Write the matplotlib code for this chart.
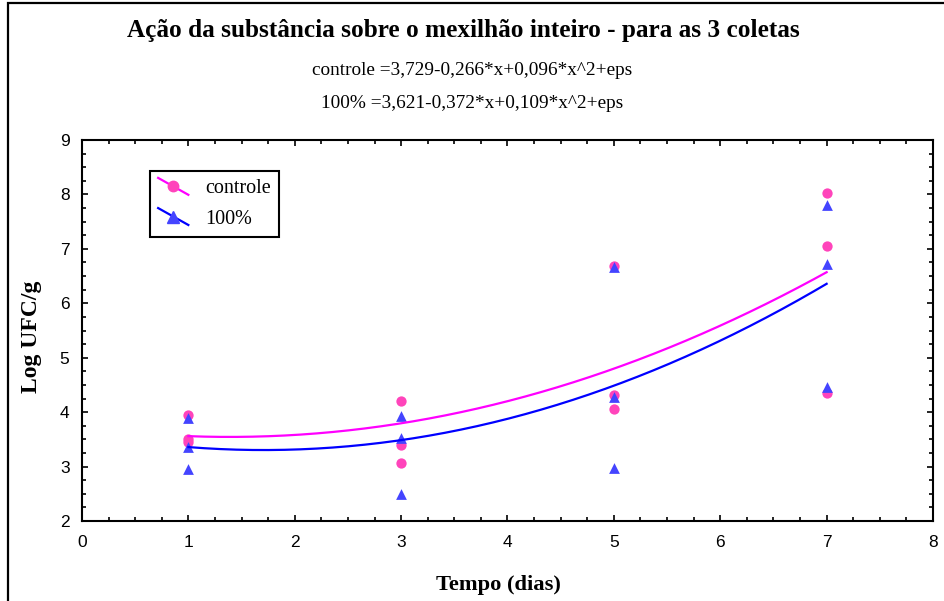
import numpy as np
import matplotlib
matplotlib.use('Agg')
import matplotlib.pyplot as plt
from matplotlib.legend_handler import HandlerLine2D
from matplotlib.lines import Line2D
from matplotlib.patches import Rectangle
from matplotlib.ticker import MultipleLocator

# sampling days, 3 collections per day
dias = [1, 1, 1, 3, 3, 3, 5, 5, 5, 7, 7, 7]
controle = [3.95, 3.50, 3.45, 4.21, 3.40, 3.07, 6.68, 4.32, 4.06, 8.02, 7.06, 4.36]
trat_100 = [3.90, 3.36, 2.96, 3.93, 3.53, 2.50, 6.66, 4.27, 2.98, 7.80, 6.73, 4.47]

# fitted quadratic coefficients (a + b*x + c*x^2) shown in the header
coef_controle = [3.729, -0.266, 0.096]
coef_100 = [3.621, -0.372, 0.109]

serif = 'Liberation Serif'
sans = 'Liberation Sans'


class DiagonalHandler(HandlerLine2D):
    # legend sample drawn as a slanted line with the marker in the middle
    def create_artists(self, legend, orig_handle, xdescent, ydescent,
                       width, height, fontsize, trans):
        x0, x1 = -xdescent, -xdescent + width
        y0, y1 = -ydescent + height * 1.1, -ydescent - height * 0.1
        ln = Line2D([x0, x1], [y0, y1], color=orig_handle.get_color(),
                    lw=orig_handle.get_linewidth())
        mk = Line2D([(x0 + x1) / 2], [(y0 + y1) / 2], linestyle='none',
                    marker=orig_handle.get_marker(),
                    markersize=orig_handle.get_markersize(),
                    color=orig_handle.get_markerfacecolor())
        ln.set_transform(trans)
        mk.set_transform(trans)
        return [ln, mk]


def eq_text(nome, c):
    s = f'{nome} ={c[0]:.3f}{c[1]:+.3f}*x{c[2]:+.3f}*x^2+eps'
    return s.replace('.', ',')


fig = plt.figure(figsize=(9.45, 6.01), dpi=100)
ax = fig.add_axes([82 / 945, 1 - 521 / 601, 851 / 945, 381 / 601])

ax.scatter(dias, controle, s=55, marker='o', color='#ff44bb', zorder=2, linewidths=0)
ax.scatter(dias, trat_100, s=60, marker='^', color='#4444ff', zorder=3, linewidths=0)

xs = np.linspace(min(dias), max(dias), 200)
ax.plot(xs, np.polyval(coef_controle[::-1], xs), color='#ff00ff', lw=1.6, zorder=4)
ax.plot(xs, np.polyval(coef_100[::-1], xs), color='#0000ff', lw=1.6, zorder=4)

h1 = Line2D([], [], color='#ff00ff', lw=1.6, marker='o', markersize=7.5,
            markerfacecolor='#ff44bb')
h2 = Line2D([], [], color='#0000ff', lw=1.6, marker='^', markersize=8.5,
            markerfacecolor='#4444ff')
leg = ax.legend([h1, h2], ['controle', '100%'], loc='upper left',
                bbox_to_anchor=(0.08, 0.918), borderaxespad=0,
                prop={'family': serif, 'size': 14.5}, fancybox=False,
                framealpha=1, edgecolor='black', handlelength=1.5,
                handletextpad=0.85, labelspacing=0.55, borderpad=0.4,
                handler_map={Line2D: DiagonalHandler()})
leg.get_frame().set_linewidth(1.5)

ax.set_xlim(0, 8)
ax.set_ylim(2, 9)
ax.xaxis.set_major_locator(MultipleLocator(1))
ax.xaxis.set_minor_locator(MultipleLocator(0.25))
ax.yaxis.set_major_locator(MultipleLocator(1))
ax.yaxis.set_minor_locator(MultipleLocator(0.25))
ax.tick_params(which='both', direction='in', top=True, right=True, width=1.2)
ax.tick_params(which='major', length=4)
ax.tick_params(which='minor', length=3)
ax.tick_params(axis='x', pad=10)
ax.tick_params(axis='y', pad=9)
for lab in ax.get_xticklabels() + ax.get_yticklabels():
    lab.set_fontfamily(sans)
    lab.set_fontsize(12.5)
for sp in ax.spines.values():
    sp.set_linewidth(1.5)

ax.set_xlabel('Tempo (dias)', fontfamily=serif, fontweight='bold', fontsize=16.2)
ax.set_ylabel('Log UFC/g', fontfamily=serif, fontweight='bold', fontsize=17)
ax.xaxis.set_label_coords(0.489, -0.142)
ax.yaxis.set_label_coords(-0.047, 0.483)

fig.text(0.49, 0.950, 'Ação da substância sobre o mexilhão inteiro - para as 3 coletas',
         ha='center', va='center', fontfamily=serif, fontweight='bold', fontsize=18.2)
fig.text(0.4995, 0.8835, eq_text('controle', coef_controle), ha='center', va='center',
         fontfamily=serif, fontsize=13.9)
fig.text(0.4995, 0.827, eq_text('100%', coef_100), ha='center', va='center',
         fontfamily=serif, fontsize=13.9)

# outer frame, cut off at the right and bottom like the original
fig.patches.append(Rectangle((8 / 945, -0.1), 1.2, 1.1 - 3 / 601, transform=fig.transFigure,
                             fill=False, lw=1.6, edgecolor='black'))

fig.savefig('out.png', dpi=100)
